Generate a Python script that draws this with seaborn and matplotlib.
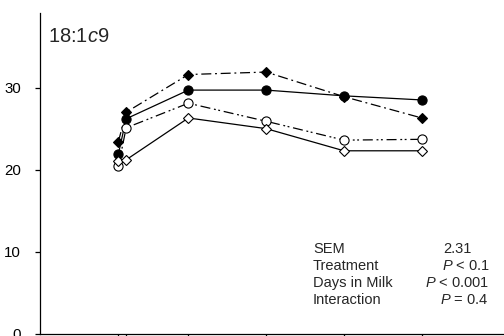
import matplotlib
matplotlib.use("Agg")
import matplotlib.pyplot as plt
import seaborn as sns
import pandas as pd

days = [3, 6, 30, 60, 90, 120]
filled_diamond = [23.4, 27.0, 31.6, 31.9, 28.9, 26.3]
filled_circle = [21.9, 26.2, 29.7, 29.7, 29.0, 28.5]
open_circle = [20.4, 25.1, 28.1, 25.9, 23.6, 23.7]
open_diamond = [21.0, 21.2, 26.3, 25.0, 22.3, 22.3]

stat_labels = ["SEM", "Treatment", "Days in Milk", "Interaction"]
stat_values = ["2.31", r"$P$ < 0.1", r"$P$ < 0.001", r"$P$ = 0.4"]
panel_title = r"18:1$c$9"

sns.set_theme(style="white")
plt.rcParams["font.family"] = ["Liberation Sans", "DejaVu Sans"]
plt.rcParams["mathtext.fontset"] = "custom"
plt.rcParams["mathtext.rm"] = "Liberation Sans"
plt.rcParams["mathtext.it"] = "Liberation Sans:italic"

W, H = 504, 336
fig = plt.figure(figsize=(W / 100, H / 100), dpi=100)
ax = fig.add_axes([40.3 / W, (H - 333.7) / H, 1 - 40.3 / W, (333.7 - 13) / H])

series = [
    (filled_diamond, "D", "black", (8, 3, 1.5, 3)),
    (filled_circle, "o", "black", ""),
    (open_circle, "o", "white", (8, 3, 1.5, 2, 1.5, 3)),
    (open_diamond, "D", "white", ""),
]
for vals, mk, fc, dash in series:
    df = pd.DataFrame({"x": days, "y": vals})
    ms = 6.6 if mk == "o" else 5.6
    sns.lineplot(data=df, x="x", y="y", ax=ax, color="black", linewidth=0.9,
                 marker=mk, markersize=ms, markerfacecolor=fc,
                 markeredgecolor="black", markeredgewidth=0.8,
                 legend=False)
    if dash:
        ax.lines[-1].set_dashes(dash)

ax.set_xlim(-27.1, 151.7)
ax.set_ylim(0, 39.1)
ax.set_yticks([0, 10, 20, 30])
ax.set_xticks(days)
ax.set_xticklabels([""] * len(days))
ax.set_xlabel("")
ax.set_ylabel("")
for s in ["top", "right"]:
    ax.spines[s].set_visible(False)
for s in ["left", "bottom"]:
    ax.spines[s].set_color("black")
    ax.spines[s].set_linewidth(0.9)
ax.tick_params(axis="both", direction="out", length=3.8, width=0.9,
               color="black", left=True, bottom=True, labelsize=10.8, pad=10)
ax.tick_params(axis="y", labelcolor="black")

fig.text(48 / W, 1 - 36 / H, panel_title, fontsize=14.5, va="center", ha="left")

ys = [249, 266, 283, 299.5]
xr = [443, 441.5, 425, 440.5]
for lab, val, y, x2 in zip(stat_labels, stat_values, ys, xr):
    fig.text(313 / W, 1 - y / H, lab, fontsize=10.5, va="center", ha="left")
    fig.text(x2 / W, 1 - y / H, val, fontsize=10.5, va="center", ha="left")

fig.savefig("out.png", dpi=100)
